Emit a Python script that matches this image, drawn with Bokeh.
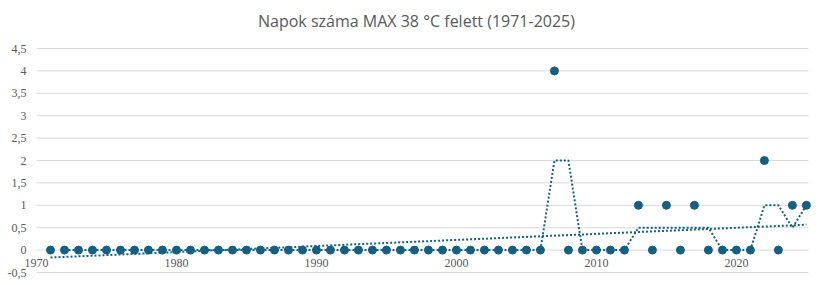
import numpy as np
import pandas as pd
from bokeh.plotting import figure
from bokeh.models import Range1d, ColumnDataSource
from bokeh.core.properties import value
from bokeh.embed import file_html
from bokeh.resources import INLINE

years = list(range(1971, 2026))
days = [0, 0, 0, 0, 0, 0, 0, 0, 0, 0,   # 1971-1980
        0, 0, 0, 0, 0, 0, 0, 0, 0, 0,   # 1981-1990
        0, 0, 0, 0, 0, 0, 0, 0, 0, 0,   # 1991-2000
        0, 0, 0, 0, 0, 0, 4, 0, 0, 0,   # 2001-2010
        0, 0, 1, 0, 1, 0, 1, 0, 0, 0,   # 2011-2020
        0, 2, 0, 1, 1]                  # 2021-2025
x_ticks = [1970, 1980, 1990, 2000, 2010, 2020]
x_tick_labels = ["1970", "1980", "1990", "2000", "2010", "2020"]
y_ticks = [-0.5, 0, 0.5, 1, 1.5, 2, 2.5, 3, 3.5, 4, 4.5]
y_tick_labels = ["-0,5", "0", "0,5", "1", "1,5", "2", "2,5", "3", "3,5", "4", "4,5"]
title_text = "Napok száma MAX 38 °C felett (1971-2025)"

COLOR = "#156082"
TEXT = "#595959"
GRID = "#d9d9d9"
TICK_FONT = value("Liberation Sans Narrow")

# axis extents of the plotting area (data units) and their pixel placement
X_MIN, X_MAX = 1970, 2025.15
Y_MIN, Y_MAX = -0.5, 4.5
W, H = 832, 285
LEFT_PX, RIGHT_PX, TOP_PX, BOTTOM_PX = 36, 808, 48, 272
sx = (RIGHT_PX - LEFT_PX) / (X_MAX - X_MIN)
sy = (BOTTOM_PX - TOP_PX) / (Y_MAX - Y_MIN)
x_range = Range1d(X_MIN - LEFT_PX / sx, X_MIN + (W - LEFT_PX) / sx)
y_range = Range1d(Y_MIN - (H - BOTTOM_PX) / sy, Y_MAX + TOP_PX / sy)

ma = pd.Series(days, dtype=float).rolling(2).mean()
ma_x = [y for y, v in zip(years, ma) if not np.isnan(v)]
ma_y = [v for v in ma if not np.isnan(v)]
coef = np.polyfit(years, days, 1)
trend_x = [years[0], years[-1]]
trend_y = list(np.polyval(coef, trend_x))

p = figure(width=W, height=H, output_backend="svg", toolbar_location=None,
           x_range=x_range, y_range=y_range, min_border=0)
p.axis.visible = False
p.grid.visible = False
p.outline_line_color = None
p.background_fill_color = "white"
p.border_fill_color = "white"

# horizontal gridlines
p.segment(x0=[X_MIN] * len(y_ticks), x1=[X_MAX] * len(y_ticks), y0=y_ticks, y1=y_ticks,
          line_color=GRID, line_width=1)

# y tick labels
p.text(x=[X_MIN] * len(y_ticks), y=y_ticks, text=y_tick_labels, x_offset=-10,
       text_align="right", text_baseline="middle", text_font=TICK_FONT,
       text_font_size="12px", text_color=TEXT)

# x tick labels (axis crosses at 0)
p.text(x=x_ticks, y=[0] * len(x_ticks), text=x_tick_labels, y_offset=9,
       text_align="center", text_baseline="top", text_font=TICK_FONT,
       text_font_size="12px", text_color=TEXT)

# title
p.text(x=[(X_MIN + X_MAX) / 2 + (W / 2 - (LEFT_PX + RIGHT_PX) / 2) / sx],
       y=[y_range.end], text=[title_text], y_offset=20, text_align="center",
       text_baseline="middle", text_font=value("Open Sans"), text_font_size="16px",
       text_color=TEXT)

p.line(trend_x, trend_y, line_color=COLOR, line_width=2, line_dash="2 2")
p.line(ma_x, ma_y, line_color=COLOR, line_width=2, line_dash="2 2")
p.scatter(years, days, size=8, fill_color=COLOR, line_color=COLOR)

open("out.html", "w").write(file_html(p, INLINE))
